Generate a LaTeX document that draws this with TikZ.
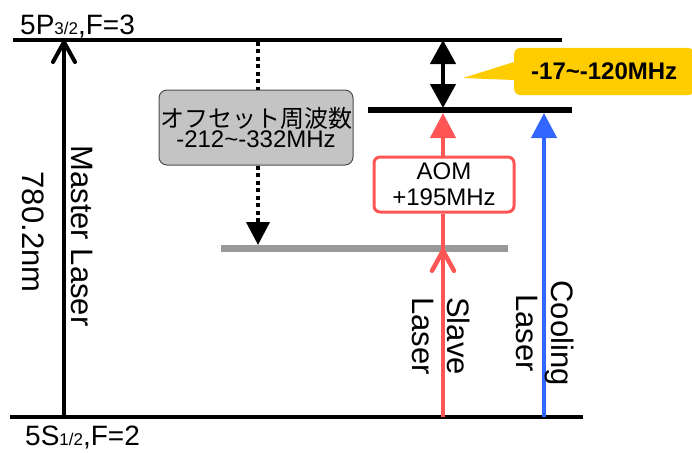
\documentclass[tikz,border=0pt]{standalone}
\usepackage{fontspec}
\setmainfont{Liberation Sans}
\newfontfamily\jpfont{Noto Sans CJK JP}
\usetikzlibrary{arrows.meta}
\definecolor{laserred}{RGB}{255,85,85}
\definecolor{laserblue}{RGB}{51,102,255}
\definecolor{boxgray}{RGB}{196,196,196}
\definecolor{levelgray}{RGB}{153,153,153}
\definecolor{calloutyellow}{RGB}{255,204,0}
\tikzset{
  fs/.style={font=\fontsize{#1}{#1}\selectfont},
  level/.style={line width=3.5pt},
  vlabel/.style={rotate=-90, fs=31, inner sep=0pt, align=center},
  chev/.style={-{Straight Barb[length=20pt,width=22pt,round]}},
  tri/.style={-{Triangle[length=25pt,width=25pt]}},
}
\begin{document}
\begin{tikzpicture}[x=1pt,y=-1pt]
\useasboundingbox (0,0) rectangle (692,452);
% levels
\coordinate (topL) at (13,40);
\coordinate (topR) at (562,40);
\coordinate (botL) at (10,417);
\coordinate (botR) at (583,417);
\draw[level] (topL) -- (topR);
\draw[level] (botL) -- (botR);
\coordinate (grayL) at (221,248.5);
\coordinate (grayR) at (508,248.5);
\draw[line width=7pt, levelgray] (grayL) -- (grayR);
\coordinate (slvL) at (368,110);
\coordinate (slvR) at (572,110);
\draw[line width=6pt] (slvL) -- (slvR);
% level labels
\node[anchor=base west, inner sep=0pt, fs=28] (plabel) at (20,35) {5P{\fontsize{17}{17}\selectfont 3/2},F=3};
\node[anchor=base west, inner sep=0pt, fs=28] (slabel) at (25,445) {5S{\fontsize{17}{17}\selectfont 1/2},F=2};
% master laser
\coordinate (mBot) at (64,417);
\coordinate (mTop) at (64,40);
\draw[line width=4pt, chev] (mBot) -- (mTop);
\node[vlabel] (mlab) at (82,236) {Master Laser};
\node[vlabel] (wl) at (33,232) {780.2nm};
% offset frequency
\node[draw=black!70, line width=1pt, fill=boxgray, rounded corners=8pt, minimum width=194pt, minimum height=75pt, align=center, inner sep=0pt] (offs) at (256,127.5)
  {{\jpfont\fontsize{24}{26}\selectfont オフセット周波数}\\[0pt]{\fontsize{24}{26}\selectfont -212\textasciitilde-332MHz}};
\coordinate (dTop) at (258,41.75);
\coordinate (dBot) at (258,245);
\draw[line width=4pt, dash pattern=on 4pt off 3.5pt] (dTop) -- (offs.north -| dTop);
\draw[line width=4pt, dash pattern=on 4pt off 3.5pt, -{Triangle[length=23pt,width=23pt]}] (offs.south -| dTop) -- (dBot);
% double arrow
\coordinate (daTop) at (443,40);
\coordinate (daBot) at (443,108);
\draw[line width=4.5pt, {Triangle[length=24pt,width=25pt]}-{Triangle[length=24pt,width=25pt]}] (daTop) -- (daBot);
% callout
\node[fill=calloutyellow, rounded corners=6pt, anchor=west, minimum width=180pt, minimum height=47pt, inner sep=0pt, font=\bfseries\fontsize{24}{24}\selectfont] (call) at (514,71.5) {-17\textasciitilde-120MHz};
\coordinate (callTip) at (463,78);
\fill[calloutyellow] (callTip) -- (call.west |- 0,62) -- (call.west |- 0,80) -- cycle;
% slave laser
\coordinate (sBot) at (443,417);
\coordinate (sGray) at (443,248.5);
\coordinate (sTop) at (443,113);
\node[draw=laserred, line width=3pt, fill=white, rounded corners=6pt, minimum width=140pt, minimum height=55pt, align=center, inner sep=0pt, fs=24] (aom) at (444,184.5) {AOM\\[2pt]+195MHz};
\draw[line width=4.5pt, laserred] (sBot) -- (aom.south -| sBot);
\draw[line width=4.5pt, laserred, chev] (sBot) -- (sGray);
\draw[line width=4.5pt, laserred, tri] (aom.north -| sBot) -- (sTop);
\node[vlabel] (slab) at (441,336) {Slave\\[4pt]Laser};
% cooling laser
\coordinate (cBot) at (544,417);
\coordinate (cTop) at (544,113);
\draw[line width=4.5pt, laserblue, tri] (cBot) -- (cTop);
\node[vlabel] (clab) at (545,333) {Cooling\\[4pt]Laser};
\end{tikzpicture}
\end{document}
